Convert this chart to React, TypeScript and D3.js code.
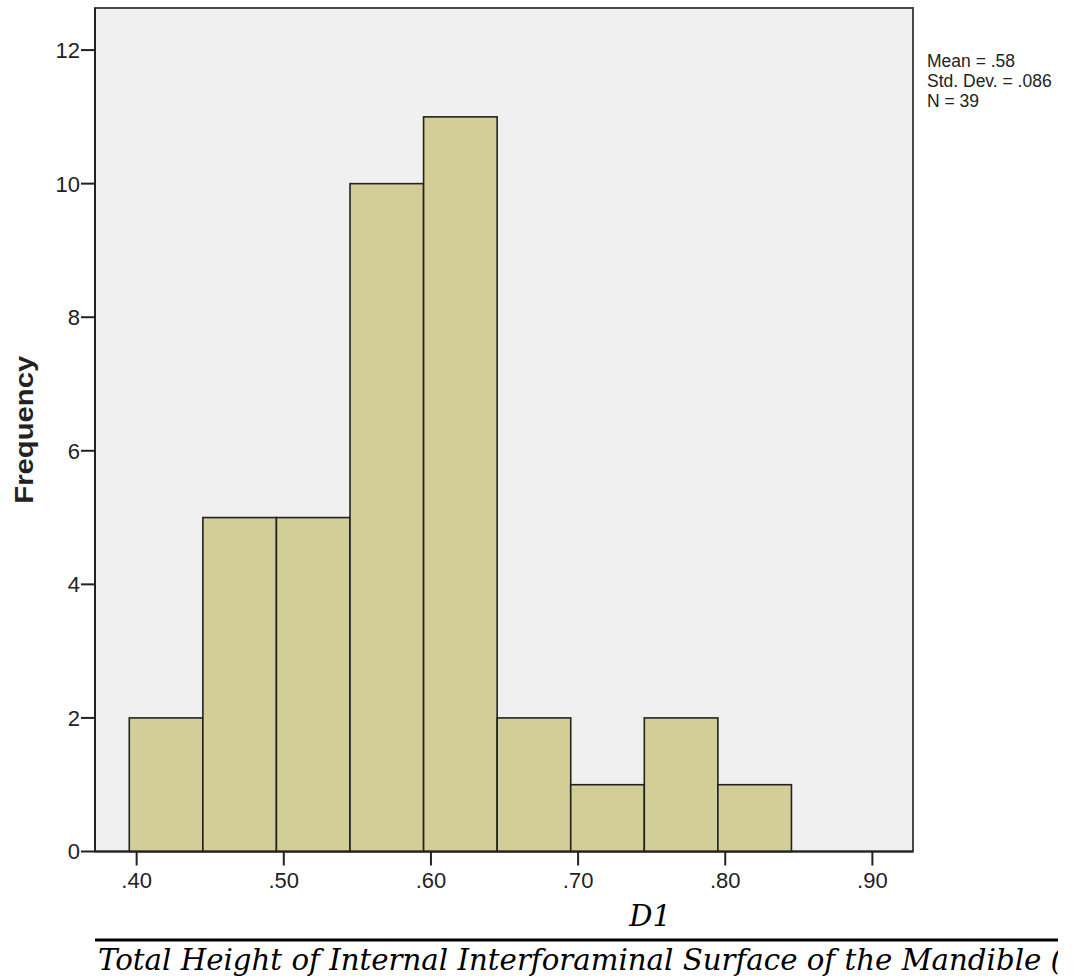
import React from "react";
import * as d3 from "d3";

// histogram bins (D1), lower edges and counts
const binStart = [0.395, 0.445, 0.495, 0.545, 0.595, 0.645, 0.695, 0.745, 0.795];
const binWidth = 0.05;
const counts = [2, 5, 5, 10, 11, 2, 1, 2, 1];
const xTicks = [0.4, 0.5, 0.6, 0.7, 0.8, 0.9];
const yTicks = [0, 2, 4, 6, 8, 10, 12];
const stats = ["Mean = .58", "Std. Dev. = .086", "N = 39"];
const xTitle = "D1";
const caption = "Total Height of Internal Interforaminal Surface of the Mandible (";

const W = 1087;
const H = 979;
const left = 95, right = 913, top = 8, bottom = 851.5;

const App = () => {
  const x = d3.scaleLinear().domain([0.3717, 0.9276]).range([left, right]);
  const y = d3.scaleLinear().domain([0, 12.63]).range([bottom, top]);
  const fmt = (v: number) => d3.format(".2f")(v).replace(/^0/, "");
  const sans = "'Liberation Sans', Arial, sans-serif";

  return (
    <svg width={W} height={H} style={{ position: "absolute", left: 0, top: 0, background: "#fff" }}>
      <defs>
        <clipPath id="capClip">
          <rect x={0} y={930} width={1058} height={49} />
        </clipPath>
      </defs>
      <rect x={left} y={top} width={right - left} height={bottom - top} fill="#f0f0f0" stroke="#4a4a4a" strokeWidth={2} />
      {counts.map((c, i) => (
        <rect key={i}
          x={x(binStart[i])} y={y(c)}
          width={x(binStart[i] + binWidth) - x(binStart[i])}
          height={y(0) - y(c)}
          fill="#d3ce97" stroke="#222" strokeWidth={1.6} />
      ))}
      {/* axes */}
      <line x1={left} x2={left} y1={top} y2={bottom} stroke="#222" strokeWidth={2} />
      <line x1={left} x2={right} y1={bottom} y2={bottom} stroke="#222" strokeWidth={2} />
      {yTicks.map(t => (
        <g key={t}>
          <line x1={left - 14} x2={left} y1={y(t)} y2={y(t)} stroke="#222" strokeWidth={2} />
          <text x={left - 15} y={y(t)} dy="0.36em" textAnchor="end" fontFamily={sans} fontSize={22} fill="#222">{t}</text>
        </g>
      ))}
      {xTicks.map(t => (
        <g key={t}>
          <line x1={x(t)} x2={x(t)} y1={bottom} y2={bottom + 14} stroke="#222" strokeWidth={2} />
          <text x={x(t)} y={888} textAnchor="middle" fontFamily={sans} fontSize={22} fill="#222">{fmt(t)}</text>
        </g>
      ))}
      <text transform={`translate(33,${(top + bottom) / 2}) rotate(-90)`} textAnchor="middle"
        fontFamily={sans} fontWeight="bold" fontSize={25} textLength={148} lengthAdjust="spacingAndGlyphs" fill="#222">Frequency</text>
      {stats.map((s, i) => (
        <text key={s} x={927} y={67 + i * 20} fontFamily={sans} fontSize={17.5} fill="#222">{s}</text>
      ))}
      <text x={650} y={926} textAnchor="middle" fontFamily="'DejaVu Serif', serif" fontStyle="italic" fontSize={29} fill="#000">{xTitle}</text>
      <line x1={95} x2={1058} y1={940} y2={940} stroke="#000" strokeWidth={3} />
      <g clipPath="url(#capClip)">
        <text x={98} y={970} fontFamily="'DejaVu Serif', serif" fontStyle="italic" fontSize={30}
          textLength={964} lengthAdjust="spacingAndGlyphs" fill="#000">{caption}</text>
      </g>
    </svg>
  );
};

export default App;
